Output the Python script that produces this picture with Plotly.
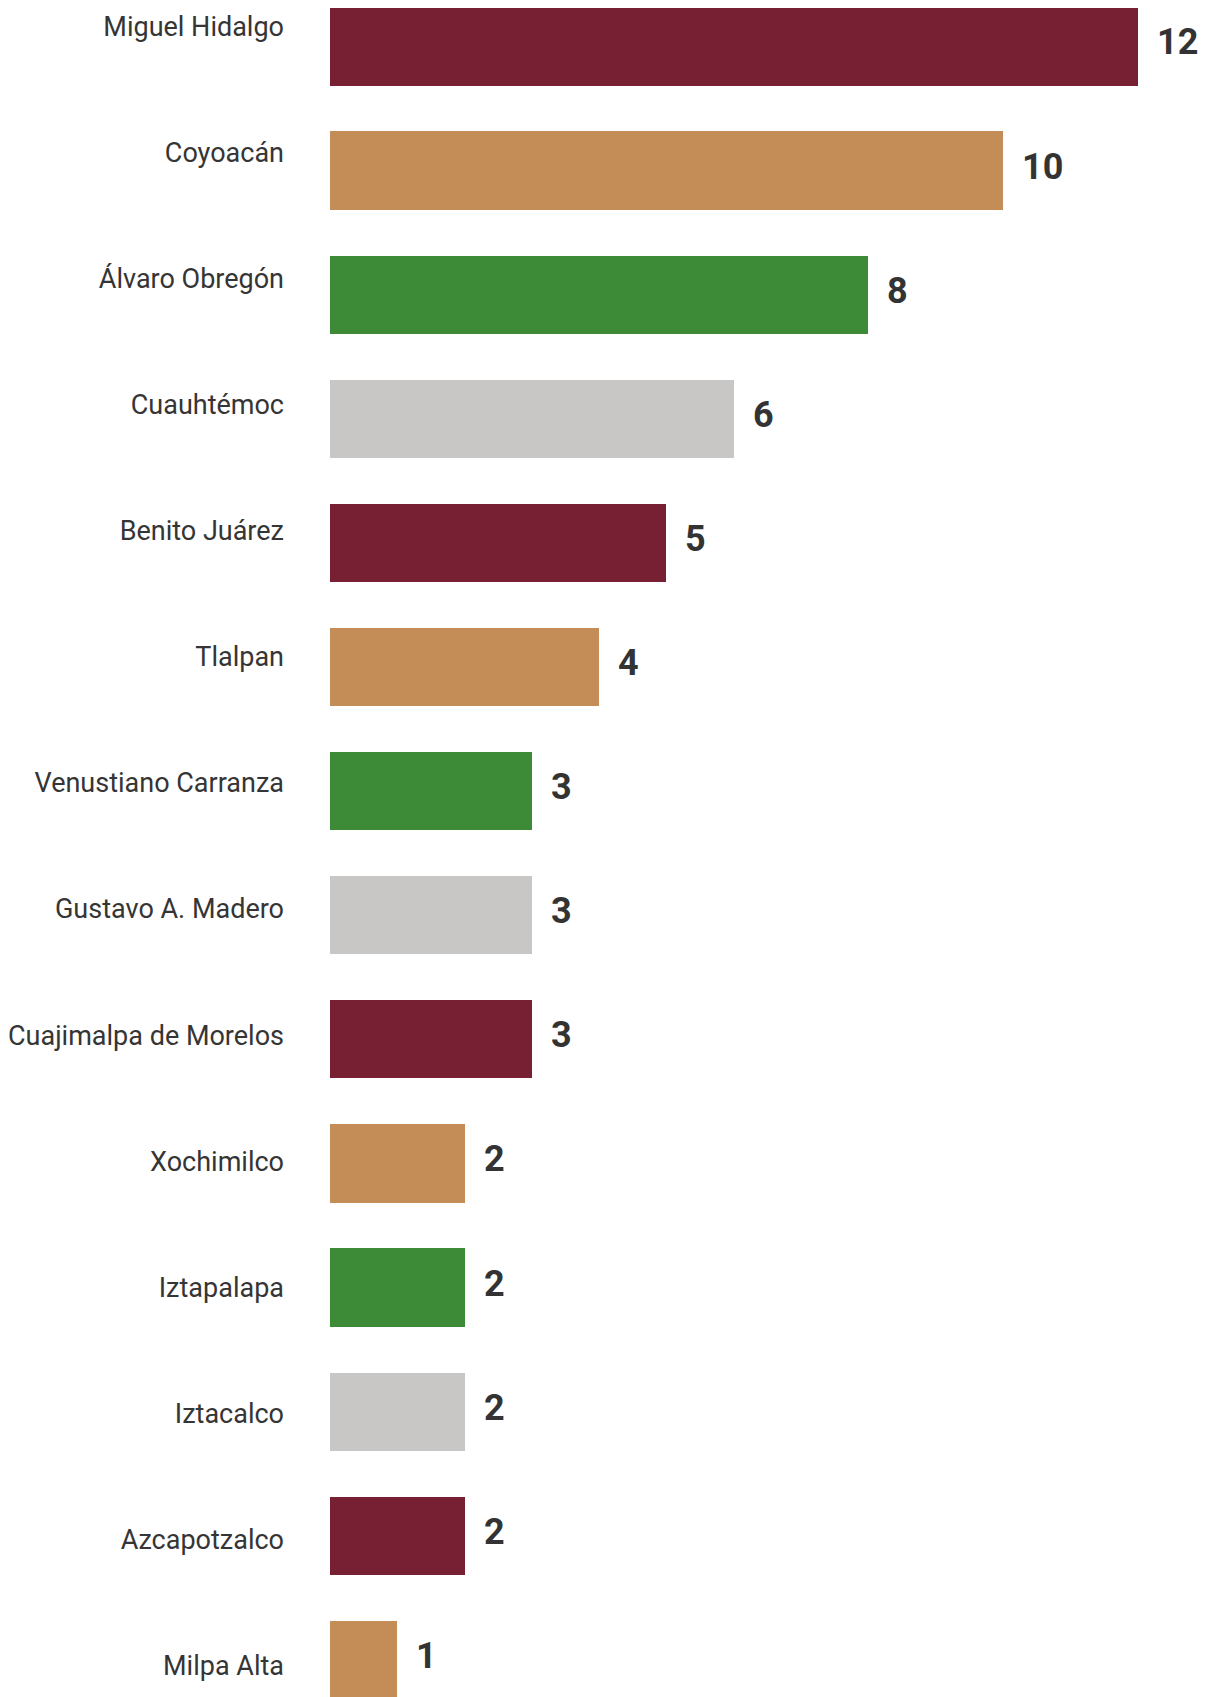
import plotly.graph_objects as go

alcaldias = [
    "Miguel Hidalgo", "Coyoacán", "Álvaro Obregón", "Cuauhtémoc", "Benito Juárez",
    "Tlalpan", "Venustiano Carranza", "Gustavo A. Madero", "Cuajimalpa de Morelos",
    "Xochimilco", "Iztapalapa", "Iztacalco", "Azcapotzalco", "Milpa Alta",
]
valores = [12, 10, 8, 6, 5, 4, 3, 3, 3, 2, 2, 2, 2, 1]

MAROON = "#782033"
TAN = "#c48d57"
GREEN = "#3d8b37"
GRAY = "#c9c7c5"
colores = [MAROON, TAN, GREEN, GRAY, MAROON, TAN, GREEN, GRAY, MAROON, TAN, GREEN, GRAY, MAROON, TAN]

fig = go.Figure()

fig.add_trace(go.Bar(
    x=valores, y=alcaldias, orientation="h",
    marker=dict(color=colores, line=dict(width=0)),
    width=0.63, hoverinfo="skip", showlegend=False,
))

# invisible trace carrying the category labels on a second axis
fig.add_trace(go.Scatter(
    x=[0] * len(alcaldias), y=alcaldias, yaxis="y2", mode="markers",
    marker=dict(opacity=0), hoverinfo="skip", showlegend=False,
))

for name, v in zip(alcaldias, valores):
    fig.add_annotation(
        x=v, y=name, xref="x", yref="y", text=str(v), showarrow=False,
        xanchor="left", yanchor="middle", xshift=17, yshift=4,
        font=dict(family="Roboto", size=36, color="#333333", weight="bold"),
    )

fig.update_layout(
    width=1200, height=1697,
    margin=dict(l=320, r=0, t=0, b=0),
    paper_bgcolor="white", plot_bgcolor="white",
    bargap=0,
    xaxis=dict(range=[0, 880 / 67.45], visible=False, fixedrange=True),
    yaxis=dict(
        type="category", categoryorder="array", categoryarray=alcaldias,
        range=[13.364, -0.310], showticklabels=False, showgrid=False,
        zeroline=False, showline=False, ticks="",
    ),
    yaxis2=dict(
        type="category", categoryorder="array", categoryarray=alcaldias,
        overlaying="y", side="left", anchor="x",
        range=[13.317, -0.151], showgrid=False, zeroline=False, showline=False,
        ticks="", ticklabelstandoff=45,
        tickfont=dict(family="Roboto", size=27, color="#353535"),
    ),
)

fig.write_html("out.html")
